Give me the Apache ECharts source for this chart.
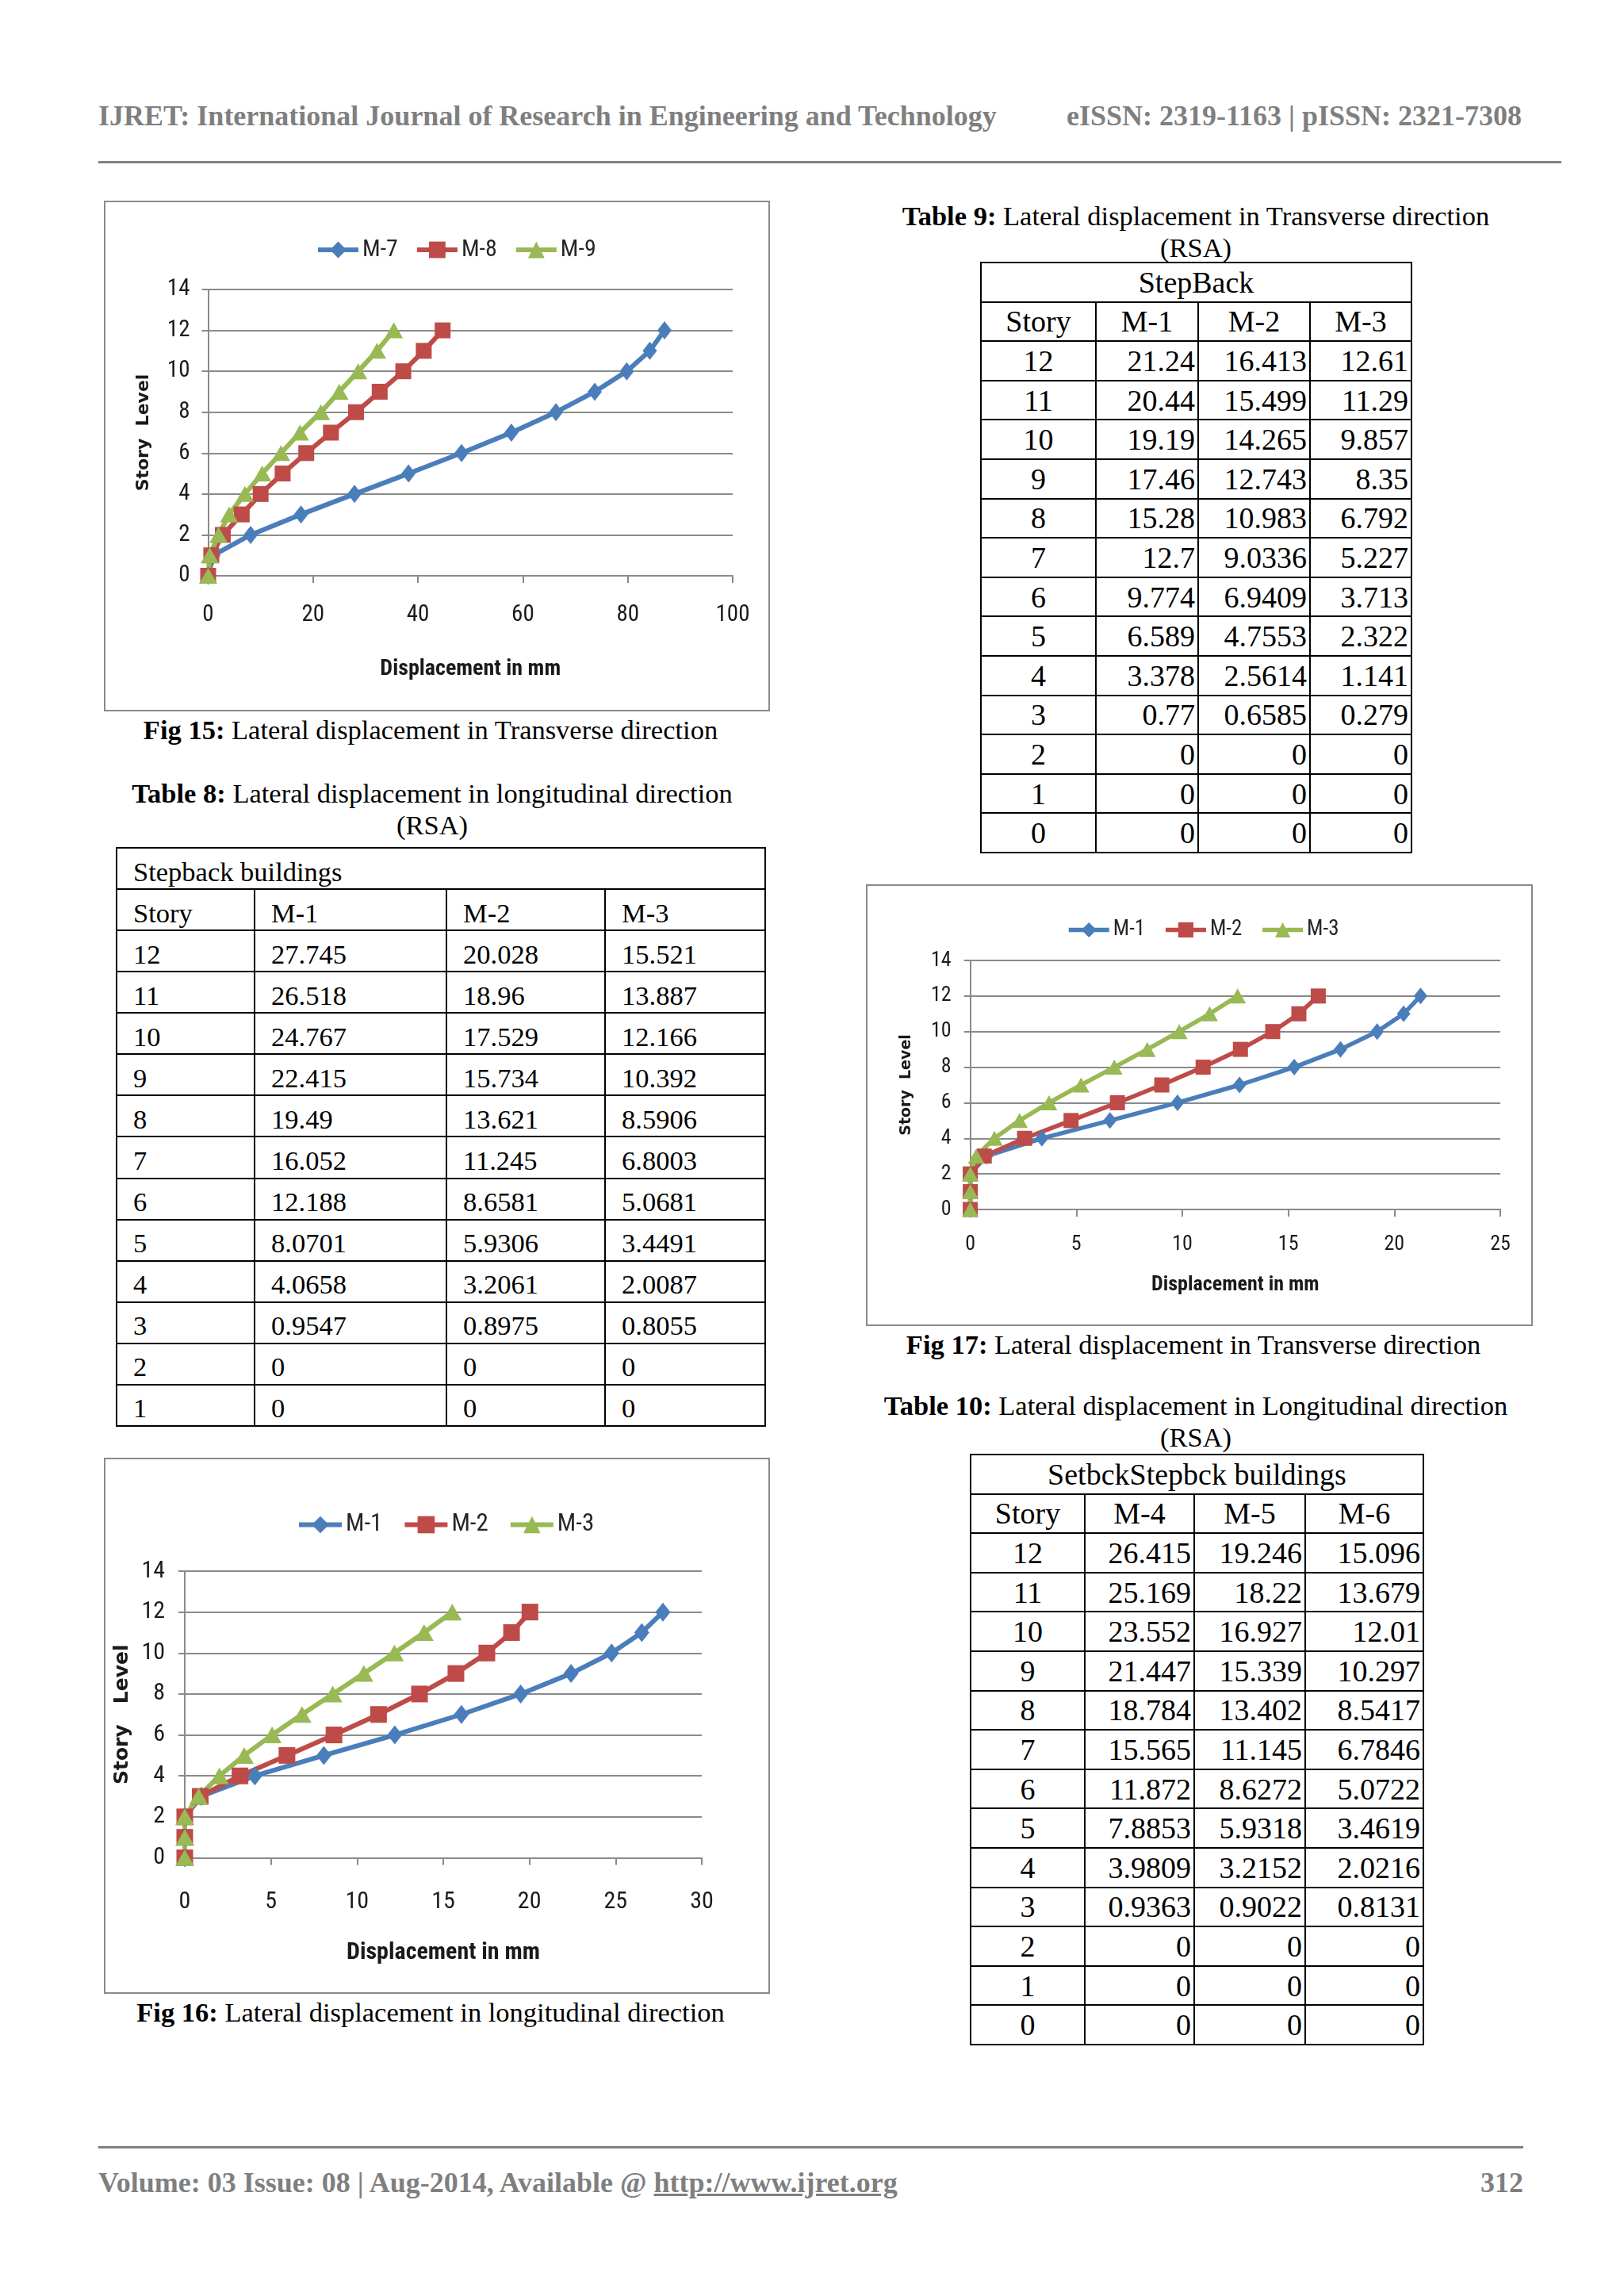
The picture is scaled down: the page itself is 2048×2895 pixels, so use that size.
<!DOCTYPE html>
<html>
<head>
<meta charset="utf-8">
<script src="https://cdn.jsdelivr.net/npm/echarts@6/dist/echarts.min.js"></script>
<style>
  body { margin: 0; background: #fff; }
  #page { position: relative; width: 2048px; height: 2895px; overflow: hidden; font-family: 'Liberation Serif', 'Times New Roman', serif; }
  .run { position: absolute; font-weight: bold; color: #7f7f7f; font-size: 36px; line-height: 40px; white-space: nowrap; }
  .rule { position: absolute; height: 3px; background: #808080; }
  .cap { position: absolute; width: 1000px; text-align: center; font-size: 34.5px; line-height: 40px; color: #000; white-space: nowrap; }
  .box { position: absolute; box-sizing: border-box; border: 2px solid #8a8a8a; pointer-events: none; }
  .chart { position: absolute; }
  table.t { position: absolute; border-collapse: collapse; table-layout: fixed; color: #000; }
  table.t td { border: 2px solid #000; padding: 0; overflow: hidden; white-space: nowrap; }
  table.t8 td { font-size: 34.5px; padding: 8px 0 0 20px; text-align: left; vertical-align: middle; }
  table.tr td { font-size: 38px; vertical-align: middle; }
  table.tr td.c { text-align: center; }
  table.tr td.r { text-align: right; padding-right: 3px; }
</style>
</head>
<body>
<div id="page">
  <div class="run" style="left:124px; top:126px;">IJRET: International Journal of Research in Engineering and Technology</div>
  <div class="run" style="right:129px; top:126px;">eISSN: 2319-1163 | pISSN: 2321-7308</div>
  <div class="rule" style="left:124px; top:203px; width:1845px;"></div>

  <div class="chart" id="fig15" style="left:131px; top:253px; width:840px; height:644px;"></div>
  <div class="box" style="left:131px; top:253px; width:840px; height:644px;"></div>
  <div class="cap" style="left:43px; top:900px;"><b>Fig 15:</b> Lateral displacement in Transverse direction</div>

  <div class="cap" style="left:45px; top:980px;"><b>Table 8:</b> Lateral displacement in longitudinal direction<br>(RSA)</div>
  <table class="t t8" id="table8" style="left:146px; top:1068px; width:818px;"></table>

  <div class="chart" id="fig16" style="left:131px; top:1838px; width:840px; height:676px;"></div>
  <div class="box" style="left:131px; top:1838px; width:840px; height:676px;"></div>
  <div class="cap" style="left:43px; top:2517px;"><b>Fig 16:</b> Lateral displacement in longitudinal direction</div>

  <div class="cap" style="left:1008px; top:252px;"><b>Table 9:</b> Lateral displacement in Transverse direction<br>(RSA)</div>
  <table class="t tr" id="table9" style="left:1236px; top:330px; width:543px;"></table>

  <div class="chart" id="fig17" style="left:1092px; top:1115px; width:841px; height:557px;"></div>
  <div class="box" style="left:1092px; top:1115px; width:841px; height:557px;"></div>
  <div class="cap" style="left:1005px; top:1675px;"><b>Fig 17:</b> Lateral displacement in Transverse direction</div>

  <div class="cap" style="left:1008px; top:1752px;"><b>Table 10:</b> Lateral displacement in Longitudinal direction<br>(RSA)</div>
  <table class="t tr" id="table10" style="left:1223px; top:1833px; width:571px;"></table>

  <div class="rule" style="left:124px; top:2706px; width:1797px;"></div>
  <div class="run" style="left:124px; top:2732px;">Volume: 03 Issue: 08 | Aug-2014, Available @ <span style="text-decoration:underline;">http://www.ijret.org</span></div>
  <div class="run" style="right:127px; top:2732px;">312</div>
</div>
<script type="text/javascript">
// ---- data ----
// story levels for the charts, ground upward
var storyLevels = [0, 1, 2, 3, 4, 5, 6, 7, 8, 9, 10, 11, 12];

// Fig 15 (story 0..12)
var fig15M7 = [0, 1.0, 8.1, 17.7, 27.9, 38.2, 48.3, 57.8, 66.3, 73.7, 79.8, 84.2, 87.0];
var fig15M8 = [0, 0.6, 2.8, 6.4, 10.0, 14.2, 18.7, 23.4, 28.2, 32.7, 37.2, 41.1, 44.7];
var fig15M9 = [0, 0.3, 2.0, 4.0, 7.0, 10.3, 13.9, 17.5, 21.5, 25.0, 28.6, 32.2, 35.4];

// Table 8 (story 12..1)
var t8Stories = [12, 11, 10, 9, 8, 7, 6, 5, 4, 3, 2, 1];
var t8M1 = [27.745, 26.518, 24.767, 22.415, 19.49, 16.052, 12.188, 8.0701, 4.0658, 0.9547, 0, 0];
var t8M2 = [20.028, 18.96, 17.529, 15.734, 13.621, 11.245, 8.6581, 5.9306, 3.2061, 0.8975, 0, 0];
var t8M3 = [15.521, 13.887, 12.166, 10.392, 8.5906, 6.8003, 5.0681, 3.4491, 2.0087, 0.8055, 0, 0];
// Fig 16 also plots the ground point
var groundStory = [0];
var groundDisp = [0];

// Table 9 (story 12..0)
var t9Stories = [12, 11, 10, 9, 8, 7, 6, 5, 4, 3, 2, 1, 0];
var t9M1 = [21.24, 20.44, 19.19, 17.46, 15.28, 12.7, 9.774, 6.589, 3.378, 0.77, 0, 0, 0];
var t9M2 = [16.413, 15.499, 14.265, 12.743, 10.983, 9.0336, 6.9409, 4.7553, 2.5614, 0.6585, 0, 0, 0];
var t9M3 = [12.61, 11.29, 9.857, 8.35, 6.792, 5.227, 3.713, 2.322, 1.141, 0.279, 0, 0, 0];

// Table 10 (story 12..0)
var t10Stories = [12, 11, 10, 9, 8, 7, 6, 5, 4, 3, 2, 1, 0];
var t10M4 = [26.415, 25.169, 23.552, 21.447, 18.784, 15.565, 11.872, 7.8853, 3.9809, 0.9363, 0, 0, 0];
var t10M5 = [19.246, 18.22, 16.927, 15.339, 13.402, 11.145, 8.6272, 5.9318, 3.2152, 0.9022, 0, 0, 0];
var t10M6 = [15.096, 13.679, 12.01, 10.297, 8.5417, 6.7846, 5.0722, 3.4619, 2.0216, 0.8131, 0, 0, 0];

// ---- tables ----
function fillTable(id, title, heads, stories, cols, widths, rowH, plain) {
  var html = '<colgroup>';
  widths.forEach(function (w) { html += '<col style="width:' + w + 'px">'; });
  html += '</colgroup>';
  html += '<tr style="height:' + rowH + 'px"><td colspan="4" class="c">' + title + '</td></tr>';
  html += '<tr style="height:' + rowH + 'px">';
  heads.forEach(function (h) { html += '<td class="c">' + h + '</td>'; });
  html += '</tr>';
  for (var i = 0; i < stories.length; i++) {
    html += '<tr style="height:' + rowH + 'px"><td class="c">' + stories[i] + '</td>';
    cols.forEach(function (c) { html += '<td class="' + (plain ? '' : 'r') + '">' + c[i] + '</td>'; });
    html += '</tr>';
  }
  document.getElementById(id).innerHTML = html;
}
fillTable('table8', 'Stepback buildings', ['Story', 'M-1', 'M-2', 'M-3'], t8Stories, [t8M1, t8M2, t8M3], [174, 242, 200, 202], 52.07, true);
fillTable('table9', 'StepBack', ['Story', 'M-1', 'M-2', 'M-3'], t9Stories, [t9M1, t9M2, t9M3], [145, 129, 141, 128], 49.6, false);
fillTable('table10', 'SetbckStepbck buildings', ['Story', 'M-4', 'M-5', 'M-6'], t10Stories, [t10M4, t10M5, t10M6], [144, 138, 140, 149], 49.6, false);
// table 8 header row is left aligned like the rest
document.querySelectorAll('#table8 td').forEach(function (td) { td.style.textAlign = 'left'; });

// ---- charts ----
var NARROW = "'Liberation Sans Narrow', 'Roboto Condensed', Roboto, sans-serif";
var GRID_GRAY = '#8a8a8a';
var BLUE = '#4a7ebb', RED = '#be4b48', GREEN = '#98b954';

function pairs(xs, ys) {
  return xs.map(function (x, i) { return [x, ys[i]]; });
}

function drawChart(id, c) {
  var chart = echarts.init(document.getElementById(id));
  var marks = [
    { symbol: 'diamond', size: c.diamond, color: BLUE },
    { symbol: 'rect', size: c.square, color: RED },
    { symbol: 'triangle', size: c.triangle, color: GREEN }
  ];
  var option = {
    animation: false,
    legend: {
      left: c.legendLeft,
      top: c.legendTop,
      itemWidth: c.iconW,
      itemHeight: c.iconH,
      itemGap: c.legendGap,
      lineStyle: { width: c.lineW },
      textStyle: { fontFamily: NARROW, fontSize: c.legendFont, color: '#262626' },
      data: c.names
    },
    grid: c.grid,
    xAxis: {
      type: 'value',
      min: 0,
      max: c.xMax,
      interval: c.xStep,
      name: 'Displacement in mm',
      nameLocation: 'middle',
      nameGap: c.xNameGap,
      nameTextStyle: { fontFamily: NARROW, fontWeight: 'bold', fontSize: c.xNameFont, color: '#1a1a1a' },
      axisLine: { show: true, lineStyle: { color: GRID_GRAY, width: 2 } },
      axisTick: { show: true, length: 9, lineStyle: { color: GRID_GRAY, width: 2 } },
      axisLabel: { fontFamily: NARROW, fontSize: c.tickFont, color: '#1a1a1a', margin: c.xLabelMargin },
      splitLine: { show: false }
    },
    yAxis: {
      type: 'value',
      min: 0,
      max: 14,
      interval: 2,
      name: c.yName,
      nameLocation: 'middle',
      nameGap: c.yNameGap,
      nameTextStyle: { fontFamily: "'DejaVu Sans', Verdana, sans-serif", fontWeight: 'bold', fontSize: c.yNameFont, color: '#1a1a1a' },
      axisLine: { show: true, lineStyle: { color: GRID_GRAY, width: 2 } },
      axisTick: { show: true, length: 8, lineStyle: { color: GRID_GRAY, width: 2 } },
      axisLabel: { fontFamily: NARROW, fontSize: c.tickFont, color: '#1a1a1a', margin: c.yLabelMargin },
      splitLine: { show: true, lineStyle: { color: GRID_GRAY, width: 2 } }
    },
    series: c.data.map(function (d, k) {
      return {
        name: c.names[k],
        type: 'line',
        data: d,
        symbol: marks[k].symbol,
        symbolSize: marks[k].size,
        showAllSymbol: true,
        clip: false,
        silent: true,
        itemStyle: { color: marks[k].color },
        lineStyle: { color: marks[k].color, width: c.lineW }
      };
    })
  };
  chart.setOption(option);
}

drawChart('fig15', {
  names: ['M-7', 'M-8', 'M-9'],
  data: [pairs(fig15M7, storyLevels), pairs(fig15M8, storyLevels), pairs(fig15M9, storyLevels)],
  grid: { left: 131.5, right: 47, top: 112, bottom: 171 },
  xMax: 100, xStep: 20,
  legendLeft: 262, legendTop: 42, iconW: 51, iconH: 26, legendGap: 21, legendFont: 30,
  tickFont: 29, xLabelMargin: 35, yLabelMargin: 23,
  xNameGap: 104, xNameFont: 28,
  yName: 'Story  Level', yNameGap: 70, yNameFont: 22,
  diamond: [18, 23], square: 20, triangle: [23, 20], lineW: 6
});

drawChart('fig16', {
  names: ['M-1', 'M-2', 'M-3'],
  data: [
    pairs(t8M1.concat(groundDisp), t8Stories.concat(groundStory)),
    pairs(t8M2.concat(groundDisp), t8Stories.concat(groundStory)),
    pairs(t8M3.concat(groundDisp), t8Stories.concat(groundStory))
  ],
  grid: { left: 102, right: 86, top: 143, bottom: 171.5 },
  xMax: 30, xStep: 5,
  legendLeft: 238, legendTop: 64, iconW: 54, iconH: 27, legendGap: 25, legendFont: 31,
  tickFont: 30, xLabelMargin: 41, yLabelMargin: 25,
  xNameGap: 105, xNameFont: 30,
  yName: 'Story   Level', yNameGap: 65, yNameFont: 25,
  diamond: [19, 24], square: 21, triangle: [24, 21], lineW: 6
});

drawChart('fig17', {
  names: ['M-1', 'M-2', 'M-3'],
  data: [pairs(t9M1, t9Stories), pairs(t9M2, t9Stories), pairs(t9M3, t9Stories)],
  grid: { left: 131.6, right: 41, top: 96, bottom: 147 },
  xMax: 25, xStep: 5,
  legendLeft: 248, legendTop: 39, iconW: 51, iconH: 24, legendGap: 23, legendFont: 27,
  tickFont: 26, xLabelMargin: 31, yLabelMargin: 24,
  xNameGap: 82, xNameFont: 26,
  yName: 'Story  Level', yNameGap: 71, yNameFont: 19,
  diamond: [17, 21], square: 19, triangle: [21, 19], lineW: 5.5
});
</script>
</body>
</html>
